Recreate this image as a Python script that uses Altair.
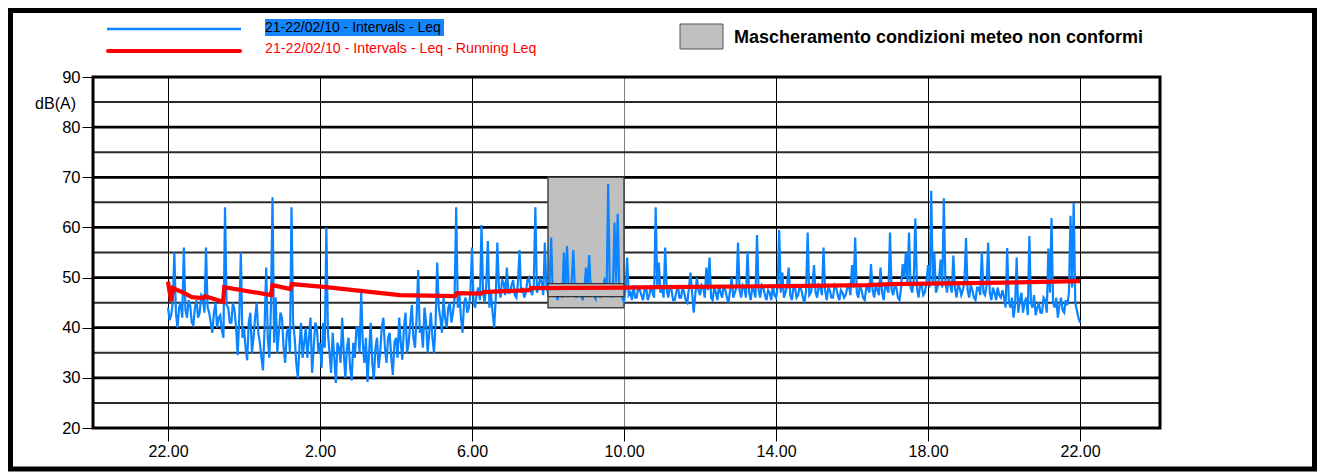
import altair as alt
import pandas as pd
import numpy as np

# ---- data (2.5-minute Leq intervals starting 22:00; one row per hour) ----
blue_leq = [
    44, 41.5, 42.5, 45, 55, 43, 40, 44, 45, 42, 56, 43.5, 42, 45.5, 44.5, 41, 40.5, 44, 45.5, 42, 43, 46.5, 46, 43,
    56, 44, 43, 41, 39, 43, 45, 40, 42, 42.5, 39.5, 38, 64, 44.5, 44, 41, 41, 45, 43.5, 40, 34.5, 42, 55, 38,
    40, 36, 33.5, 41, 43, 35, 38, 42, 45, 39, 37, 34, 31.5, 40, 52, 38, 34, 44, 66, 37, 46, 35, 39, 43,
    42, 36, 33, 39, 40, 35, 64, 41, 38, 33, 30, 36, 41, 34, 37, 40, 34, 38, 42, 31, 36, 41, 40, 35,
    37, 32, 41, 36, 60, 39, 35, 31, 39, 34, 29, 37, 36, 33, 42, 35, 30, 36, 38, 32, 29.5, 37, 34, 40,
    40, 35, 47, 37, 33, 38, 29.2, 35, 41, 33, 29.7, 36, 38, 32, 35, 40, 42, 36, 33, 38, 39, 34, 30.6, 37,
    38, 34, 42, 37, 33.6, 40, 43, 35, 37, 41, 44.5, 38, 36, 42, 51.5, 39, 40, 36, 44, 41, 35, 39, 43, 38,
    35, 41, 53, 44, 42, 39, 46, 42, 40, 44, 45, 41, 43, 46, 64, 44, 47, 42, 39, 45, 46, 43, 44, 47,
    56, 45, 44, 47, 48, 45.5, 60.5, 47, 45, 48.5, 57.3, 44, 47, 43, 40, 46, 57, 48, 46, 49.5, 49, 46.5, 52, 47,
    47, 48.5, 49.5, 46.5, 46, 49, 55.5, 47, 48, 46, 47, 49.5, 50, 47.5, 46.5, 48.5, 64, 47, 48, 50, 49, 46.5, 57, 48,
    47, 49, 58, 46.5, 48, 47, 45.5, 48.5, 47.5, 46, 55, 48, 56.3, 47.5, 47, 49.5, 55.5, 47, 46, 48.5, 48, 46.5, 45.5, 48,
    52, 48, 54.5, 47.5, 47, 46.5, 45.8, 48.5, 48, 46, 47, 48.5, 50, 47, 68.7, 47.5, 46, 48, 61, 49, 62.7, 48, 47.5, 46,
    45, 48, 54, 46.5, 47, 45.5, 48.5, 46, 46, 48, 47.5, 46.5, 45.5, 47.5, 48, 45.5, 46.5, 48.5, 47, 46, 64, 48, 53, 47,
    48, 46, 56, 47.5, 46, 48.5, 47.5, 45.5, 45.5, 47, 48.5, 46, 46, 48, 47, 45.5, 45, 48, 51, 47, 43, 46.5, 50, 47.5,
    46.5, 48.5, 48, 46, 52, 47.5, 54, 46, 45.5, 48, 47, 45.5, 48.5, 47, 46, 48.5, 47.5, 46, 45, 47.5, 50, 46, 47, 48,
    57, 47.5, 46, 48.5, 48, 46, 55.3, 47, 45.5, 48, 47.5, 46, 58.5, 47.5, 46, 48.5, 48, 46.5, 45.5, 47.5, 47, 45.5, 48.5, 46.5,
    46, 48, 59.5, 47, 51, 46, 47, 48.5, 52, 46.5, 45.5, 48, 48, 46, 46.5, 48.5, 47.5, 46, 45, 47.5, 59, 46.5, 47, 48.5,
    52.5, 47, 46, 48.5, 48, 46.5, 56, 47.5, 45.5, 48, 47.5, 46, 46, 48.5, 48, 46.5, 45.5, 47.5, 47, 46, 46.5, 48, 48.5, 46.5,
    52.5, 48, 58, 47, 46, 48.5, 47.5, 46, 45.5, 48, 48, 47, 52.7, 47.5, 46, 48.5, 47.5, 46.5, 52, 47, 45.5, 48.5, 48, 47,
    59, 47.5, 46.5, 48.5, 48, 46, 45.5, 48, 52.7, 50, 55, 49, 59, 48, 47, 49.5, 61.8, 48, 46, 48.5, 48.5, 46.5, 47, 49,
    52.5, 48, 67.3, 49, 55, 47, 48, 50, 53.6, 48, 65.8, 49, 47, 50, 48.5, 47, 54.4, 48, 46, 48.5, 48, 46.5, 47.5, 49,
    57.9, 47.5, 46, 48.5, 47.5, 46, 45.5, 48, 48, 46.5, 55.2, 47, 46.5, 48.5, 57, 47, 45.5, 48, 47, 45.5, 48, 46.5, 46, 47.5,
    46, 44, 55.9, 45.5, 44, 46, 42, 44.5, 54, 43, 45.5, 47, 43, 45, 46, 42.5, 58.3, 45, 44, 46.5, 42.5, 44, 45, 43,
    43, 46, 45.5, 43, 55.8, 47, 61.9, 45, 44, 46, 42, 44.5, 46, 43.5, 43, 45.5, 44.5, 47, 62.3, 48, 64.9, 45, 43.5, 42,
    41,
]
intervals_per_hour = 24

red_hours = [0, 0.08, 0.13, 0.4, 0.63, 0.92, 0.97, 1.45, 1.48, 2.71, 2.75, 3.22, 3.26,
             4.16, 6.1, 7.55, 7.6, 8.24, 8.3, 9.5, 9.55, 12.0, 13.0, 16.2, 18.4, 19.0, 22.0, 24.0]
red_leq = [49.2, 45.3, 47.9, 47.0, 46.1, 45.9, 46.3, 45.2, 48.1, 46.5, 48.5, 47.7, 48.7,
           48.1, 46.5, 46.3, 46.9, 46.8, 47.1, 47.5, 47.9, 48.0, 48.1, 48.3, 48.5, 48.7, 49.0, 49.3]

x_tick_hours = [0, 4, 8, 12, 16, 20, 24]
x_tick_labels = ["22.00", "2.00", "6.00", "10.00", "14.00", "18.00", "22.00"]
y_tick_values = [20, 30, 40, 50, 60, 70, 80, 90]
grid_major = [30, 40, 50, 60, 70, 80]
grid_minor = [25, 35, 45, 55, 65, 75, 85]

mask_start, mask_end = [10], [12]
mask_low, mask_high = [44], [70]
mask_inner_low, mask_inner_high = [46.2], [48.8]

legend_labels = ["21-22/02/10 - Intervals - Leq",
                 "21-22/02/10 - Intervals - Leq - Running Leq",
                 "Mascheramento condizioni meteo non conformi"]
y_title = "dB(A)"

# ---- layout ----
W, H = 1067, 351
FONT = "Liberation Sans, Arial, sans-serif"
BLUE = "#0a84ff"
RED = "#ff0000"
GREY = "#c0c0c0"

blue_df = pd.DataFrame({"h": np.arange(len(blue_leq)) / intervals_per_hour, "v": blue_leq})
red_df = pd.DataFrame({"h": red_hours, "v": red_leq})
mask_df = pd.DataFrame({"h": mask_start, "h2": mask_end, "v": mask_low, "v2": mask_high})
inner_df = pd.DataFrame({"h": mask_start, "h2": mask_end, "v": mask_inner_low, "v2": mask_inner_high})
one = pd.DataFrame({"k": [0]})

x_scale = alt.Scale(domain=[-1.974, 26.105], nice=False, zero=False)
y_scale = alt.Scale(domain=[20, 90], nice=False, zero=False)

label_expr = " : ".join(f"datum.value == {v} ? '{l}'" for v, l in zip(x_tick_hours, x_tick_labels)) + " : ''"

x_axis = alt.Axis(values=x_tick_hours, labelExpr=label_expr, title=None, domain=False,
                  grid=True, gridColor={"condition": {"test": f"datum.value == {mask_end[0]}", "value": "#808080"},
                                        "value": "#000000"},
                  gridWidth=1, tickSize=13, tickColor="black", tickWidth=1,
                  labelFontSize=16, labelFont=FONT, labelColor="black", labelPadding=2)
y_axis = alt.Axis(values=y_tick_values, title=None, domain=False, grid=False,
                  tickSize=11, tickColor="black", tickWidth=1,
                  labelFontSize=16.5, labelFont=FONT, labelColor="black", labelPadding=2)

X = alt.X("h:Q", scale=x_scale, axis=x_axis)
Y = alt.Y("v:Q", scale=y_scale, axis=y_axis)

grid_minor_l = alt.Chart(pd.DataFrame({"v": grid_minor})).mark_rule(color="#2a2a2a", strokeWidth=2).encode(y=Y)
grid_major_l = alt.Chart(pd.DataFrame({"v": grid_major})).mark_rule(color="black", strokeWidth=2.8).encode(y=Y)

mask_l = alt.Chart(mask_df).mark_rect(fill=GREY, stroke="#444444", strokeWidth=1.5).encode(
    x=X, x2="h2", y=Y, y2="v2")

blue_l = alt.Chart(blue_df).mark_line(color=BLUE, strokeWidth=2.2).encode(x=X, y=Y)

inner_l = alt.Chart(inner_df).mark_rect(fill=GREY, stroke="#333333", strokeWidth=1.2).encode(
    x=X, x2="h2", y=Y, y2="v2")

red_l = alt.Chart(red_df).mark_line(color=RED, strokeWidth=4.2).encode(x=X, y=Y)

border_l = alt.Chart(one).mark_rect(fillOpacity=0, stroke="black", strokeWidth=3).encode(
    x=alt.value(0), x2=alt.value(W), y=alt.value(0), y2=alt.value(H))

frame_l = alt.Chart(one).mark_rect(fillOpacity=0, stroke="black", strokeWidth=5).encode(
    x=alt.value(-82.5), x2=alt.value(1221.5), y=alt.value(-66.5), y2=alt.value(392))

# legend
leg_blue_line = alt.Chart(one).mark_rule(color=BLUE, strokeWidth=2.5).encode(
    x=alt.value(14), x2=alt.value(148), y=alt.value(-48))
leg_red_line = alt.Chart(one).mark_rule(color=RED, strokeWidth=4, strokeCap="round").encode(
    x=alt.value(15), x2=alt.value(147), y=alt.value(-26))
leg_hl = alt.Chart(one).mark_rect(fill="#1484ff").encode(
    x=alt.value(172), x2=alt.value(351), y=alt.value(-58), y2=alt.value(-41))
leg_blue_text = alt.Chart(one).mark_text(align="left", baseline="middle", fontSize=14, font=FONT,
                                         color="black").encode(
    x=alt.value(172), y=alt.value(-49.5), text=alt.value(legend_labels[0]))
leg_red_text = alt.Chart(one).mark_text(align="left", baseline="middle", fontSize=14.2, font=FONT,
                                        color=RED).encode(
    x=alt.value(172), y=alt.value(-28), text=alt.value(legend_labels[1]))
leg_box = alt.Chart(one).mark_rect(fill=GREY, stroke="#555555", strokeWidth=1).encode(
    x=alt.value(587), x2=alt.value(630), y=alt.value(-53), y2=alt.value(-28))
leg_mask_text = alt.Chart(one).mark_text(align="left", baseline="middle", fontSize=18, font=FONT,
                                         fontWeight="bold", color="black").encode(
    x=alt.value(641), y=alt.value(-39.5), text=alt.value(legend_labels[2]))
ytitle_l = alt.Chart(one).mark_text(align="right", baseline="middle", fontSize=16, font=FONT,
                                    color="black").encode(
    x=alt.value(-17), y=alt.value(27), text=alt.value(y_title))

chart = alt.layer(
    grid_minor_l, grid_major_l, mask_l, blue_l, inner_l, red_l, border_l,
    leg_blue_line, leg_red_line, leg_hl, leg_blue_text, leg_red_text, leg_box, leg_mask_text,
    ytitle_l, frame_l,
).properties(
    width=W, height=H,
    padding={"left": 85, "top": 69, "right": 157, "bottom": 44},
    autosize=alt.AutoSizeParams(type="none"),
    background="white",
).configure_view(stroke="transparent")

chart.save("out.html", embed_options={"renderer": "svg", "actions": False})
